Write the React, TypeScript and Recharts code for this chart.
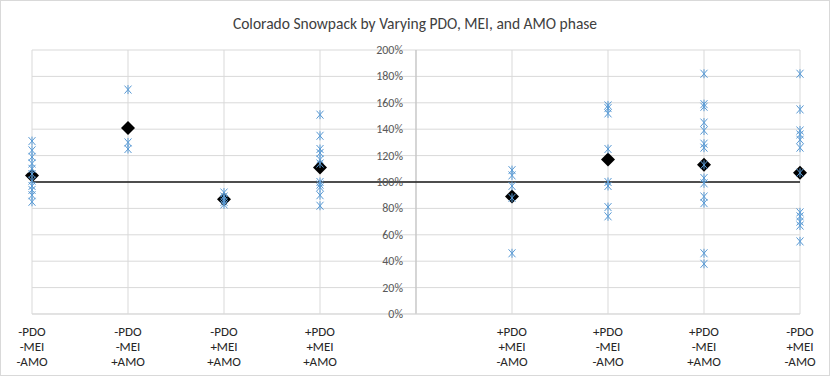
import React from 'react';
import { ScatterChart, Scatter, XAxis, YAxis, CartesianGrid, ReferenceLine } from 'recharts';

const chartTitle = 'Colorado Snowpack by Varying PDO, MEI, and AMO phase';

const categoryLabels: string[][] = [
  ['-PDO', '-MEI', '-AMO'],
  ['-PDO', '-MEI', '+AMO'],
  ['-PDO', '+MEI', '+AMO'],
  ['+PDO', '+MEI', '+AMO'],
  [],
  ['+PDO', '+MEI', '-AMO'],
  ['+PDO', '-MEI', '-AMO'],
  ['+PDO', '-MEI', '+AMO'],
  ['-PDO', '+MEI', '-AMO'],
];

const xTicks = [0, 1, 2, 3, 4, 5, 6, 7, 8];
const yTicks = [0, 20, 40, 60, 80, 100, 120, 140, 160, 180, 200];

// snowpack (% of normal) per year, by phase combination
const snowpackNNN = [131, 124, 119, 114, 110, 106, 101, 97, 94, 90, 85];
const snowpackNNP = [170, 130, 125];
const snowpackNPP = [92, 89, 87, 85, 83];
const snowpackPPP = [151, 135, 125, 122, 117, 114, 100, 98, 96, 90, 82];
const snowpackPPN = [109, 105, 97, 88, 46];
const snowpackPNN = [158, 156, 152, 125, 100, 97, 81, 74];
const snowpackPNP = [182, 159, 157, 145, 139, 129, 126, 113, 103, 99, 89, 84, 46, 38];
const snowpackNPN = [182, 155, 139, 136, 132, 126, 107, 77, 74, 70, 67, 55];

const categoryValues: number[][] = [
  snowpackNNN, snowpackNNP, snowpackNPP, snowpackPPP, [],
  snowpackPPN, snowpackPNN, snowpackPNP, snowpackNPN,
];

const categoryMeans: (number | null)[] = [105, 141, 87, 111, null, 89, 117, 113, 107];

const normalLevel = 100;
const axisCrossCategory = 4;

const yearPoints = categoryValues.flatMap((vals, i) => vals.map((v) => ({ x: i, y: v })));
const meanPoints = categoryMeans
  .map((v, i) => (v == null ? null : { x: i, y: v }))
  .filter((p) => p !== null) as { x: number; y: number }[];

const W = 830;
const H = 376;
const Y_AXIS_W = 32;
const MARGIN = { top: 50, right: 30, left: 0, bottom: 2 };
const PLOT_LEFT = MARGIN.left + Y_AXIS_W;
const PLOT_W = W - PLOT_LEFT - MARGIN.right;
const FONT = "Carlito, 'Liberation Sans', Arial, sans-serif";

const Asterisk = (props: any) => {
  const { cx, cy } = props;
  if (cx == null || cy == null) return null;
  const c = '#5b9bd5';
  return (
    <g stroke={c} strokeWidth={1}>
      <line x1={cx - 3.5} y1={cy - 4} x2={cx + 3.5} y2={cy + 4} />
      <line x1={cx - 3.5} y1={cy + 4} x2={cx + 3.5} y2={cy - 4} />
      <line x1={cx} y1={cy - 4.5} x2={cx} y2={cy + 4.5} />
    </g>
  );
};

const Diamond = (props: any) => {
  const { cx, cy } = props;
  if (cx == null || cy == null) return null;
  const r = 7;
  return (
    <polygon
      points={`${cx},${cy - r} ${cx + r},${cy} ${cx},${cy + r} ${cx - r},${cy}`}
      fill="#000"
    />
  );
};

const XTick = (props: any) => {
  const { x, y, payload } = props;
  const lines = categoryLabels[payload.value] || [];
  return (
    <text x={x} y={y} textAnchor="middle" fontSize={13} fill="#262626" fontFamily={FONT}>
      {lines.map((l, i) => (
        <tspan key={i} x={x} dy={i === 0 ? 14 : 15}>
          {l}
        </tspan>
      ))}
    </text>
  );
};

const YTick = (props: any) => {
  const { y, payload } = props;
  const axisX = PLOT_LEFT + (PLOT_W * axisCrossCategory) / (xTicks.length - 1);
  return (
    <text x={axisX - 13} y={y} dy={4} textAnchor="end" fontSize={12} fill="#595959" fontFamily={FONT}>
      {`${payload.value}%`}
    </text>
  );
};

export default function App() {
  return (
    <div
      style={{
        position: 'absolute',
        left: 0,
        top: 0,
        width: W,
        height: H,
        background: '#fff',
        fontFamily: FONT,
      }}
    >
      <div
        style={{
          position: 'absolute',
          left: 0,
          top: 14,
          width: W,
          textAlign: 'center',
          fontSize: 15.5,
          color: '#404040',
          fontFamily: FONT,
        }}
      >
        {chartTitle}
      </div>
      <ScatterChart width={W} height={H} margin={MARGIN}>
        <CartesianGrid stroke="#d9d9d9" />
        <XAxis
          type="number"
          dataKey="x"
          domain={[0, 8]}
          ticks={xTicks}
          interval={0}
          tick={<XTick />}
          tickLine={false}
          axisLine={{ stroke: '#d9d9d9' }}
          height={60}
        />
        <YAxis
          type="number"
          dataKey="y"
          domain={[0, 200]}
          ticks={yTicks}
          interval={0}
          width={Y_AXIS_W}
          tick={<YTick />}
          tickLine={false}
          axisLine={false}
        />
        <ReferenceLine x={axisCrossCategory} stroke="#bfbfbf" />
        <ReferenceLine y={normalLevel} stroke="#1a1a1a" strokeWidth={1.5} />
        <Scatter data={meanPoints} shape={<Diamond />} isAnimationActive={false} />
        <Scatter data={yearPoints} shape={<Asterisk />} isAnimationActive={false} />
      </ScatterChart>
      <div
        style={{
          position: 'absolute',
          left: 0,
          top: 0,
          width: W,
          height: H,
          boxSizing: 'border-box',
          border: '1px solid #d9d9d9',
          pointerEvents: 'none',
        }}
      />
    </div>
  );
}
